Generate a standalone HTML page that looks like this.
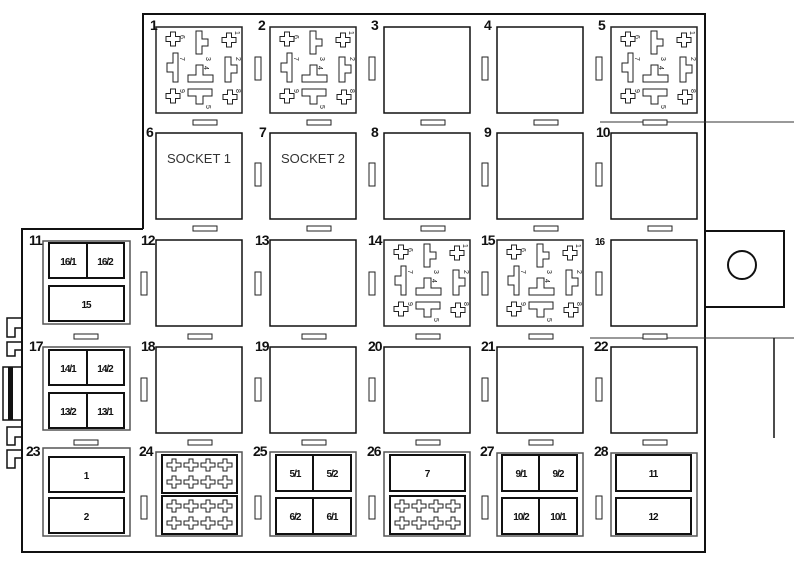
<!DOCTYPE html>
<html><head><meta charset="utf-8"><style>
html,body{margin:0;padding:0;background:#fff;width:794px;height:575px;overflow:hidden}
svg{display:block}
.n{font-family:"Liberation Sans",sans-serif;font-weight:bold;font-size:14px;fill:#111;letter-spacing:-1px}
.s{font-family:"Liberation Sans",sans-serif;font-weight:bold;font-size:10px;fill:#111;letter-spacing:-1px}
.p{font-family:"Liberation Sans",sans-serif;font-size:7px;fill:#222}
.k{font-family:"Liberation Sans",sans-serif;font-size:13px;fill:#333}
</style></head><body>
<svg width="794" height="575" viewBox="0 0 794 575" xmlns="http://www.w3.org/2000/svg">
<defs>
<polygon id="cr" points="-2.5,-7 2.5,-7 2.5,-2.5 7,-2.5 7,2.5 2.5,2.5 2.5,7 -2.5,7 -2.5,2.5 -7,2.5 -7,-2.5 -2.5,-2.5" fill="#fff" stroke="#222" stroke-width="1"/>
<polygon id="mc" points="-2,-6 2,-6 2,-2 7,-2 7,2 2,2 2,6 -2,6 -2,2 -7,2 -7,-2 -2,-2" fill="#fff" stroke="#222" stroke-width="1"/>
<g id="relay" fill="#fff" stroke="#222" stroke-width="1">
<rect x="0" y="0" width="86" height="86" stroke-width="1.5"/>
<use href="#cr" x="17" y="12"/>
<polygon points="40,4 46,4 46,12 52,12 52,19 46,19 46,27 40,27"/>
<use href="#cr" x="73" y="13"/>
<polygon points="17,26 22,26 22,55 17,55 17,45 11,45 11,36 17,36"/>
<polygon points="40,38 47,38 47,48 57,48 57,55 32,55 32,48 40,48"/>
<polygon points="69,30 75,30 75,38 81,38 81,46 75,46 75,55 69,55"/>
<use href="#cr" x="17" y="69"/>
<polygon points="32,62 56,62 56,69 47,69 47,77 40,77 40,69 32,69"/>
<use href="#cr" x="74" y="70"/>
<g stroke="none">
<text class="p" transform="translate(24,8) rotate(90)">6</text>
<text class="p" transform="translate(50,30) rotate(90)">3</text>
<text class="p" transform="translate(79,4) rotate(90)">1</text>
<text class="p" transform="translate(24,30) rotate(90)">7</text>
<text class="p" transform="translate(48,39) rotate(90)">4</text>
<text class="p" transform="translate(80,30) rotate(90)">2</text>
<text class="p" transform="translate(24,62) rotate(90)">9</text>
<text class="p" transform="translate(50,78) rotate(90)">5</text>
<text class="p" transform="translate(80,62) rotate(90)">8</text>
</g>
</g>
<g id="crosses">
<rect x="0" y="0" width="75" height="38" fill="#fff" stroke="#111" stroke-width="2"/>
<use href="#mc" x="12" y="10"/><use href="#mc" x="29" y="10"/><use href="#mc" x="46" y="10"/><use href="#mc" x="63" y="10"/>
<use href="#mc" x="12" y="27"/><use href="#mc" x="29" y="27"/><use href="#mc" x="46" y="27"/><use href="#mc" x="63" y="27"/>
</g>
<rect id="vs" width="6" height="23" fill="#fff" stroke="#222" stroke-width="1"/>
<rect id="hs" width="24" height="5" fill="#fff" stroke="#222" stroke-width="1"/>
</defs>

<!-- outer border -->
<path d="M143 229 V14 H705 V552 H22 V229 H143" fill="none" stroke="#111" stroke-width="2"/>
<line x1="600" y1="122" x2="794" y2="122" stroke="#333" stroke-width="1"/>
<line x1="590" y1="338" x2="794" y2="338" stroke="#333" stroke-width="1"/>
<line x1="774" y1="338" x2="774" y2="438" stroke="#111" stroke-width="1.5"/>
<rect x="705" y="231" width="79" height="76" fill="#fff" stroke="#111" stroke-width="2"/>
<circle cx="742" cy="265" r="14" fill="none" stroke="#111" stroke-width="2"/>

<!-- left notches -->
<g fill="none" stroke="#111" stroke-width="1.5">
<path d="M22 318 H7 V337 H15 V328 H22"/>
<path d="M22 342 H7 V356 H15 V350 H22"/>
<rect x="3" y="367" width="19" height="53"/>
<path d="M22 427 H7 V445 H15 V437 H22"/>
<path d="M22 450 H7 V468 H15 V458 H22"/>
</g>
<rect x="8" y="367" width="5" height="53" fill="#111"/>

<!-- slots vertical -->
<use href="#vs" x="255" y="57"/><use href="#vs" x="369" y="57"/><use href="#vs" x="482" y="57"/><use href="#vs" x="596" y="57"/>
<use href="#vs" x="255" y="163"/><use href="#vs" x="369" y="163"/><use href="#vs" x="482" y="163"/><use href="#vs" x="596" y="163"/>
<use href="#vs" x="141" y="272"/><use href="#vs" x="255" y="272"/><use href="#vs" x="369" y="272"/><use href="#vs" x="482" y="272"/><use href="#vs" x="596" y="272"/>
<use href="#vs" x="141" y="378"/><use href="#vs" x="255" y="378"/><use href="#vs" x="369" y="378"/><use href="#vs" x="482" y="378"/><use href="#vs" x="596" y="378"/>
<use href="#vs" x="141" y="496"/><use href="#vs" x="255" y="496"/><use href="#vs" x="369" y="496"/><use href="#vs" x="482" y="496"/><use href="#vs" x="596" y="496"/>

<!-- slots horizontal -->
<use href="#hs" x="193" y="120"/><use href="#hs" x="307" y="120"/><use href="#hs" x="421" y="120"/><use href="#hs" x="534" y="120"/><use href="#hs" x="643" y="120"/>
<use href="#hs" x="193" y="226"/><use href="#hs" x="307" y="226"/><use href="#hs" x="421" y="226"/><use href="#hs" x="534" y="226"/><use href="#hs" x="648" y="226"/>
<use href="#hs" x="74" y="334"/><use href="#hs" x="188" y="334"/><use href="#hs" x="302" y="334"/><use href="#hs" x="416" y="334"/><use href="#hs" x="529" y="334"/><use href="#hs" x="643" y="334"/>
<use href="#hs" x="74" y="440"/><use href="#hs" x="188" y="440"/><use href="#hs" x="302" y="440"/><use href="#hs" x="416" y="440"/><use href="#hs" x="529" y="440"/><use href="#hs" x="643" y="440"/>

<!-- plain boxes -->
<g fill="#fff" stroke="#111" stroke-width="1.5">
<rect x="384" y="27" width="86" height="86"/><rect x="497" y="27" width="86" height="86"/>
<rect x="156" y="133" width="86" height="86"/><rect x="270" y="133" width="86" height="86"/>
<rect x="384" y="133" width="86" height="86"/><rect x="497" y="133" width="86" height="86"/><rect x="611" y="133" width="86" height="86"/>
<rect x="156" y="240" width="86" height="86"/><rect x="270" y="240" width="86" height="86"/><rect x="611" y="240" width="86" height="86"/>
<rect x="156" y="347" width="86" height="86"/><rect x="270" y="347" width="86" height="86"/><rect x="384" y="347" width="86" height="86"/>
<rect x="497" y="347" width="86" height="86"/><rect x="611" y="347" width="86" height="86"/>
</g>
<text class="k" x="199" y="163" text-anchor="middle">SOCKET 1</text>
<text class="k" x="313" y="163" text-anchor="middle">SOCKET 2</text>

<!-- relays -->
<use href="#relay" x="156" y="27"/><use href="#relay" x="270" y="27"/><use href="#relay" x="611" y="27"/>
<use href="#relay" x="384" y="240"/><use href="#relay" x="497" y="240"/>

<!-- fuse holders outer -->
<g fill="#fff" stroke="#555" stroke-width="1.5">
<rect x="43" y="241" width="87" height="83"/><rect x="43" y="347" width="87" height="83"/><rect x="43" y="448" width="87" height="88"/>
<rect x="156" y="452" width="86" height="84"/><rect x="270" y="452" width="86" height="84"/><rect x="384" y="452" width="86" height="84"/>
<rect x="497" y="453" width="86" height="83"/><rect x="611" y="453" width="86" height="83"/>
</g>
<g fill="#fff" stroke="#111" stroke-width="2">
<rect x="49" y="243" width="75" height="35"/><line x1="87" y1="243" x2="87" y2="278"/>
<rect x="49" y="286" width="75" height="35"/>
<rect x="49" y="350" width="75" height="35"/><line x1="87" y1="350" x2="87" y2="385"/>
<rect x="49" y="393" width="75" height="35"/><line x1="87" y1="393" x2="87" y2="428"/>
<rect x="49" y="457" width="75" height="35"/>
<rect x="49" y="498" width="75" height="35"/>
<rect x="276" y="455" width="75" height="36"/><line x1="313" y1="455" x2="313" y2="491"/>
<rect x="276" y="498" width="75" height="36"/><line x1="313" y1="498" x2="313" y2="534"/>
<rect x="390" y="455" width="75" height="36"/>
<rect x="502" y="455" width="75" height="36"/><line x1="539" y1="455" x2="539" y2="491"/>
<rect x="502" y="498" width="75" height="36"/><line x1="539" y1="498" x2="539" y2="534"/>
<rect x="616" y="455" width="75" height="36"/>
<rect x="616" y="498" width="75" height="36"/>
</g>
<use href="#crosses" x="162" y="455"/>
<use href="#crosses" x="162" y="496"/>
<use href="#crosses" x="390" y="496"/>

<g class="s" text-anchor="middle">
<text x="68" y="265">16/1</text><text x="105" y="265">16/2</text><text x="86" y="308">15</text>
<text x="68" y="372">14/1</text><text x="105" y="372">14/2</text>
<text x="68" y="415">13/2</text><text x="105" y="415">13/1</text>
<text x="86" y="479">1</text><text x="86" y="520">2</text>
<text x="295" y="477">5/1</text><text x="332" y="477">5/2</text>
<text x="295" y="520">6/2</text><text x="332" y="520">6/1</text>
<text x="427" y="477">7</text>
<text x="521" y="477">9/1</text><text x="558" y="477">9/2</text>
<text x="521" y="520">10/2</text><text x="558" y="520">10/1</text>
<text x="653" y="477">11</text><text x="653" y="520">12</text>
</g>

<!-- numbers -->
<g class="n">
<text x="150" y="30">1</text><text x="258" y="30">2</text><text x="371" y="30">3</text><text x="484" y="30">4</text><text x="598" y="30">5</text>
<text x="146" y="137">6</text><text x="259" y="137">7</text><text x="371" y="137">8</text><text x="484" y="137">9</text><text x="596" y="137">10</text>
<text x="29" y="245">11</text><text x="141" y="245">12</text><text x="255" y="245">13</text><text x="368" y="245">14</text><text x="481" y="245">15</text><text x="595" y="245" font-size="10">16</text>
<text x="29" y="351">17</text><text x="141" y="351">18</text><text x="255" y="351">19</text><text x="368" y="351">20</text><text x="481" y="351">21</text><text x="594" y="351">22</text>
<text x="26" y="456">23</text><text x="139" y="456">24</text><text x="253" y="456">25</text><text x="367" y="456">26</text><text x="480" y="456">27</text><text x="594" y="456">28</text>
</g>
</svg>
</body></html>
